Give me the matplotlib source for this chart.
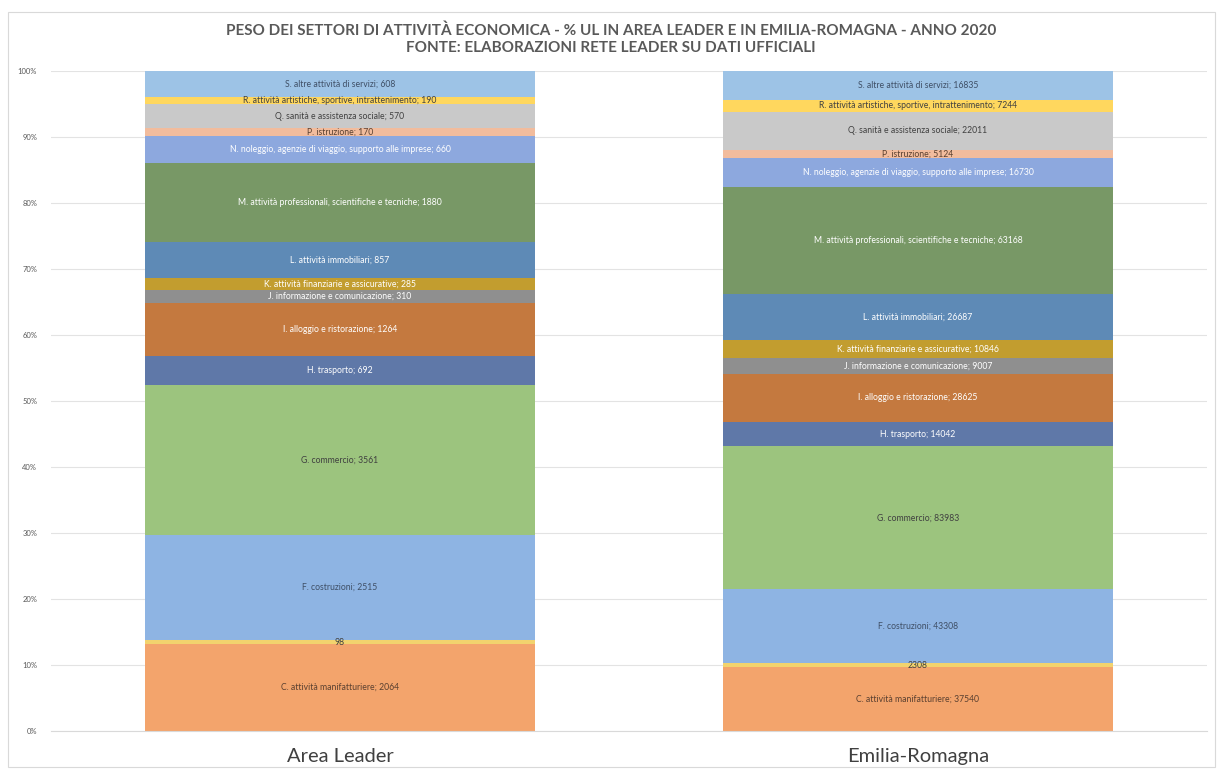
import matplotlib
matplotlib.use("Agg")
import matplotlib.pyplot as plt
from matplotlib.patches import Rectangle
import numpy as np

# Local units (UL) per economic sector, 2020
regions = ["Area Leader", "Emilia-Romagna"]

sector_names = [
    "C. attività manifatturiere",
    "",  # D: shown with value only
    "F. costruzioni",
    "G. commercio",
    "H. trasporto",
    "I. alloggio e ristorazione",
    "J. informazione e comunicazione",
    "K. attività finanziarie e assicurative",
    "L. attività immobiliari",
    "M. attività professionali, scientifiche e tecniche",
    "N. noleggio, agenzie di viaggio, supporto alle imprese",
    "P. istruzione",
    "Q. sanità e assistenza sociale",
    "R. attività artistiche, sportive, intrattenimento",
    "S. altre attività di servizi",
]

area_leader = [2064, 98, 2515, 3561, 692, 1264, 310, 285, 857, 1880, 660, 170, 570, 190, 608]
emilia_romagna = [37540, 2308, 43308, 83983, 14042, 28625, 9007, 10846, 26687, 63168,
                  16730, 5124, 22011, 7244, 16835]

sector_colors = ["#F3A46C", "#F2D36E", "#8EB4E3", "#9CC47E", "#5F78A8", "#C4793F",
                 "#8F8F8F", "#C29D2F", "#5E8AB6", "#789866", "#8DA8DE", "#F2BC9D",
                 "#C9C9C9", "#FFD75E", "#9DC3E6"]
text_colors = ["#5A4030", "#404040", "#3F4F66", "#404040", "white", "white",
               "white", "white", "white", "white", "white", "#5A4030",
               "#404040", "#404040", "#3F4F66"]

title_lines = ["PESO DEI SETTORI DI ATTIVITÀ ECONOMICA - % UL IN AREA LEADER E IN EMILIA-ROMAGNA - ANNO 2020",
               "FONTE: ELABORAZIONI RETE LEADER SU DATI UFFICIALI"]

plt.rcParams["font.family"] = ["Lato", "DejaVu Sans"]

fig = plt.figure(figsize=(12.22, 7.71), dpi=100)
fig.patches.append(Rectangle((8 / 1222, 4 / 771), 1207 / 1222, 755 / 771,
                             transform=fig.transFigure, fill=False,
                             edgecolor="#D9D9D9", linewidth=0.8))

ax = fig.add_axes([51 / 1222, 40 / 771, 1156 / 1222, 660 / 771])

data = np.array([area_leader, emilia_romagna], dtype=float)
shares = data / data.sum(axis=1, keepdims=True) * 100
x = np.arange(len(regions))
bar_width = 0.675

bottom = np.zeros(len(regions))
for i, name in enumerate(sector_names):
    h = shares[:, i]
    ax.bar(x, h, bar_width, bottom=bottom, color=sector_colors[i], linewidth=0, zorder=2)
    for j in range(len(regions)):
        val = int(data[j, i])
        txt = f"{name}; {val}" if name else f"{val}"
        ax.text(x[j], bottom[j] + h[j] / 2, txt, ha="center", va="center",
                fontsize=6.2, color=text_colors[i], zorder=3)
    bottom += h

ax.set_xlim(-0.5, 1.5)
ax.set_ylim(0, 100)
ax.set_yticks(np.arange(0, 101, 10))
ax.set_yticklabels([f"{v}%" for v in range(0, 101, 10)], fontsize=5.5, color="#595959")
ax.set_xticks(x)
ax.set_xticklabels(regions, fontsize=14.5, color="#404040")
ax.tick_params(axis="both", length=0)
ax.tick_params(axis="y", pad=10)
ax.tick_params(axis="x", pad=12)
ax.grid(axis="y", color="#E3E3E3", linewidth=0.8, zorder=0)
ax.set_axisbelow(True)
for side in ["top", "right", "left"]:
    ax.spines[side].set_visible(False)
ax.spines["bottom"].set_color("#D9D9D9")
ax.spines["bottom"].set_linewidth(0.8)

fig.text(0.5, 1 - 31 / 771, title_lines[0], ha="center", va="center",
         fontsize=11, fontweight="bold", color="#595959")
fig.text(0.5, 1 - 48 / 771, title_lines[1], ha="center", va="center",
         fontsize=11, fontweight="bold", color="#595959")

fig.savefig("out.png", dpi=100)
